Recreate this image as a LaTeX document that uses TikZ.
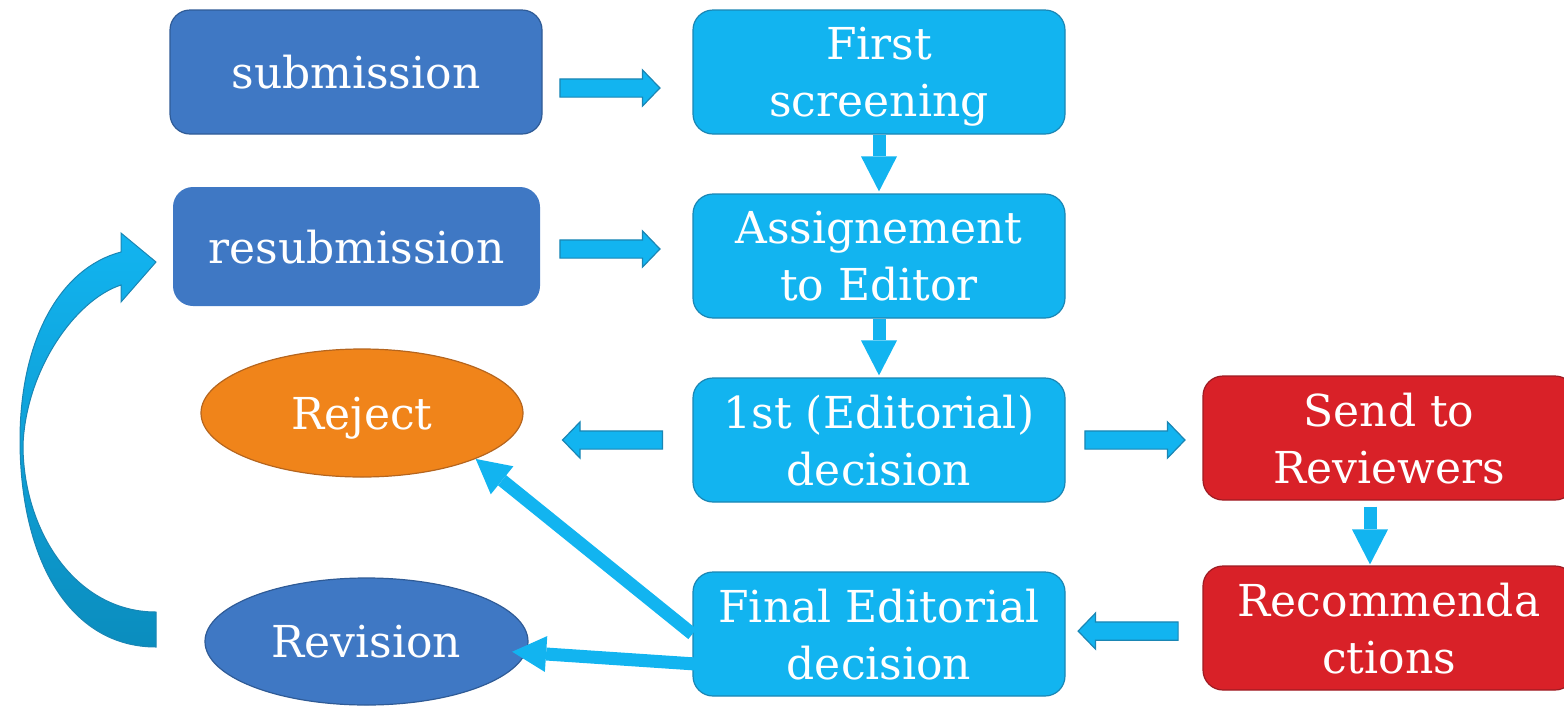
\documentclass[tikz,border=0pt]{standalone}
\usepackage{fontspec}
\setmainfont{DejaVu Serif}
\usetikzlibrary{shapes.geometric,shapes.arrows,arrows.meta,calc}
\definecolor{darkblue}{HTML}{3F78C4}
\definecolor{darkblueline}{HTML}{2F5B96}
\definecolor{cyanfill}{HTML}{12B4F0}
\definecolor{cyanline}{HTML}{1A86B4}
\definecolor{redfill}{HTML}{D92128}
\definecolor{redline}{HTML}{9E1B22}
\definecolor{orangefill}{HTML}{F0841A}
\definecolor{orangeline}{HTML}{B5651E}
\definecolor{curvebottom}{HTML}{0B8DBE}
\tikzset{
  box/.style={rounded corners=20pt, minimum width=372pt, minimum height=124pt,
    inner sep=0pt, text=white, align=center, line width=1.2pt, text depth=0pt,
    font=\fontsize{44}{57}\selectfont},
  bluebox/.style={box, fill=darkblue, draw=darkblueline},
  cyanbox/.style={box, fill=cyanfill, draw=cyanline},
  redbox/.style={box, fill=redfill, draw=redline},
  oval/.style={ellipse, inner sep=0pt, text=white, line width=1.2pt, text depth=0pt,
    font=\fontsize{44}{57}\selectfont},
  blockarr/.style={single arrow, fill=cyanfill, draw=cyanline, line width=1.2pt,
    inner xsep=0pt, inner ysep=8.5pt, minimum height=100pt,
    single arrow head extend=9pt, single arrow tip angle=92},
  downarr/.style={cyanfill, line width=13pt,
    -{Triangle[length=35pt,width=36pt,line width=0pt]}},
  slantarr/.style={cyanfill, line width=13pt,
    -{Triangle[length=34pt,width=36pt,line width=0pt]}}
}
\begin{document}
\begin{tikzpicture}[x=1pt, y=-1pt]
\useasboundingbox (0,0) rectangle (1564,705);
\clip (0,0) rectangle (1564,705);

\node[bluebox] (sub) at (356,72) {submission};
\node[cyanbox] (first) at (879,72) {First\\screening};
\node[bluebox, draw=none, minimum width=367pt, minimum height=119pt] (resub) at (356.5,246.5) {resubmission};
\node[cyanbox] (assign) at (879,256) {Assignement\\to Editor};
\node[oval, fill=orangefill, draw=orangeline, minimum width=322pt, minimum height=128pt] (rej) at (362,413) {Reject};
\node[cyanbox] (dec1) at (879,440) {1st (Editorial)\\decision};
\node[redbox] (send) at (1389,438) {Send to\\Reviewers};
\node[oval, fill=darkblue, draw=darkblueline, minimum width=323pt, minimum height=127pt] (rev) at (366.5,641.5) {Revision};
\node[cyanbox] (fin) at (879,634) {Final Editorial\\decision};
\node[redbox] (rec) at (1389,628) {Recommenda\\ctions};

% block arrows
\path ($(sub.east)+(0,16)$) -- ($(first.west)+(0,16)$) node[blockarr, pos=0.42] {};
\path ($(resub.east)+(0,2.5)$) -- ($(assign.west)+(0,-7)$) node[blockarr, pos=0.428] {};
\path (dec1.west) -- (dec1.west -| rej.east) node[blockarr, shape border rotate=180, pos=0.447] {};
\path (dec1.east) -- (dec1.east -| send.west) node[blockarr, pos=0.475] {};
\path (rec.west) -- (fin.east) node[blockarr, shape border rotate=180, pos=0.511] {};

% plain arrows
\draw[downarr, shorten >=2pt] (first.south) -- (assign.north);
\draw[downarr, shorten >=2pt] (assign.south) -- (dec1.north);
\draw[downarr, shorten <=6pt, shorten >=1pt] ($(send.south)+(-19,0)$) -- ($(rec.north)+(-19,0)$);
\draw[slantarr] (fin.west) -- (rej.-22);
\draw[slantarr, shorten >=-14pt] ($(fin.west)+(33,32)$) -- (rev.-4);

% curved return arrow
\shadedraw[top color=cyanfill, bottom color=curvebottom, draw=cyanline, line width=1pt]
  (156,612) -- (156,647)
  .. controls (70,647) and (20,560) .. (20,440)
  .. controls (20,340) and (60,268) .. (121,252)
  -- (121,233) -- (156,262) -- (121,302) -- (121,285)
  .. controls (75,300) and (26,370) .. (23,445)
  .. controls (23,530) and (75,612) .. (156,612) -- cycle;
\end{tikzpicture}
\end{document}
